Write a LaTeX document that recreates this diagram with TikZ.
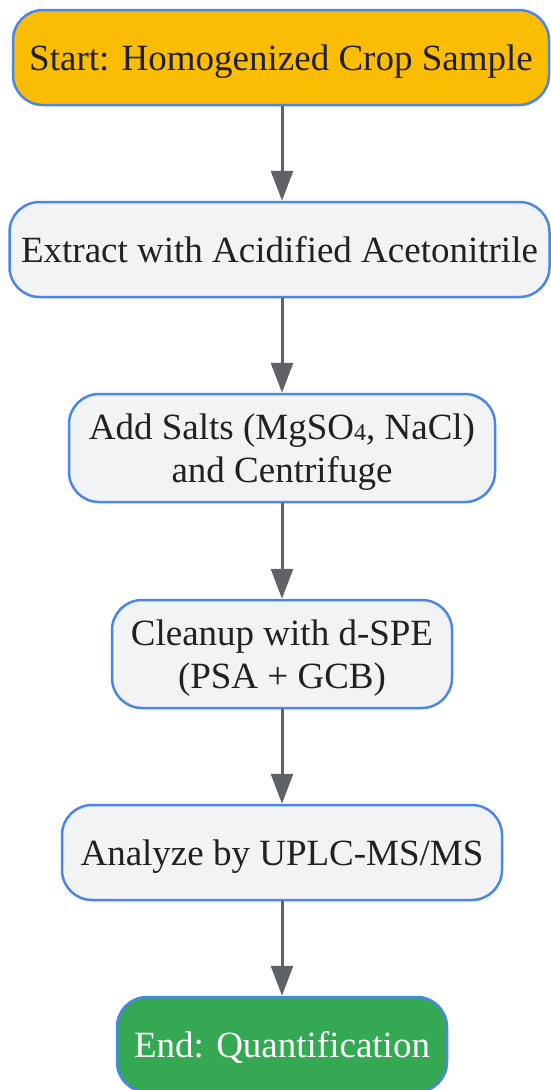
\documentclass[tikz,border=0pt]{standalone}
\usepackage{fontspec}
\setmainfont{Liberation Serif}
\usetikzlibrary{arrows.meta}
\definecolor{boxblue}{HTML}{4A86E8}
\definecolor{boxfill}{HTML}{F1F3F4}
\definecolor{startfill}{HTML}{FBBC04}
\definecolor{endfill}{HTML}{34A853}
\definecolor{arrowgray}{HTML}{5F6368}
\definecolor{textdark}{HTML}{202124}
\tikzset{
  stepbox/.style={draw=boxblue, line width=2.5pt, fill=boxfill, rounded corners=30pt,
    align=center, text=textdark, font=\fontsize{37}{43.5}\selectfont, inner sep=0pt, text depth=0pt},
  startbox/.style={stepbox, fill=startfill},
  endbox/.style={stepbox, fill=endfill, text=white},
  flow/.style={draw=arrowgray, line width=3pt, -{Triangle[length=30pt,width=22pt]}}
}
\begin{document}
\begin{tikzpicture}[x=1pt,y=-1pt]
\useasboundingbox (0,0) rectangle (550,1090);
\node[startbox, minimum width=536pt, minimum height=95pt] (n1) at (281,57.5) {Start: Homogenized Crop Sample};
\node[stepbox, minimum width=540pt, minimum height=95pt] (n2) at (279.5,249.5) {Extract with Acidified Acetonitrile};
\node[stepbox, minimum width=426pt, minimum height=108pt] (n3) at (282,448) {Add Salts (MgSO\raisebox{-0.05em}{\fontsize{24}{24}\selectfont 4}, NaCl)\\and Centrifuge};
\node[stepbox, minimum width=340pt, minimum height=108pt] (n4) at (282,654) {Cleanup with d-SPE\\(PSA + GCB)};
\node[stepbox, minimum width=440pt, minimum height=95pt] (n5) at (282,852.5) {Analyze by UPLC-MS/MS};
\node[endbox, minimum width=330pt, minimum height=95pt] (n6) at (282,1044.5) {End: Quantification};
\draw[flow] (n1.south -| n3.center) -- (n2.north -| n3.center);
\draw[flow] (n2.south -| n3.center) -- (n3.north);
\draw[flow] (n3) -- (n4);
\draw[flow] (n4) -- (n5);
\draw[flow] (n5) -- (n6);
\end{tikzpicture}
\end{document}
